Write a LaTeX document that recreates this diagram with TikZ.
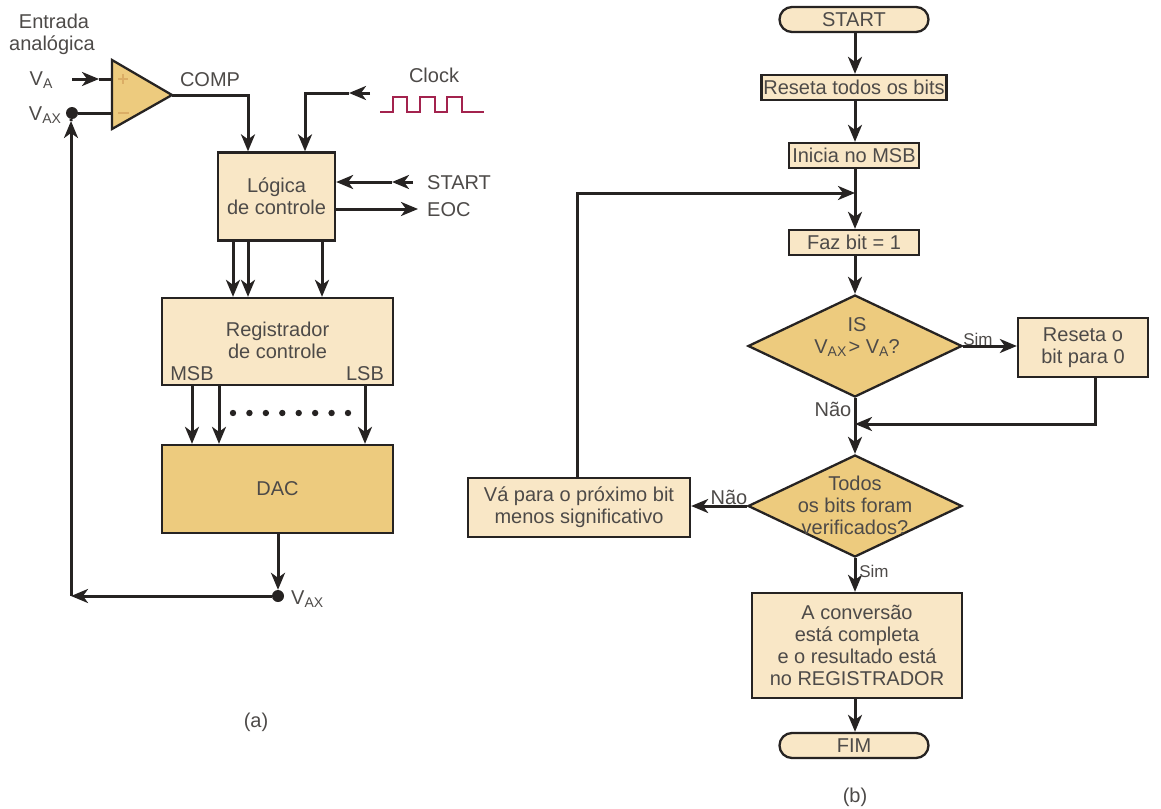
\documentclass[tikz,border=0pt]{standalone}
\usepackage{fontspec}
\setmainfont{Liberation Sans}
\usetikzlibrary{arrows.meta,shapes.geometric}
\definecolor{light}{HTML}{F9E7C6}
\definecolor{dark}{HTML}{EDCB7E}
\definecolor{ink}{HTML}{262322}
\definecolor{txt}{HTML}{4D4A48}
\definecolor{clk}{HTML}{A3234E}
\newcommand\lowsub[1]{\raisebox{-0.35ex}{\fontsize{14}{14}\selectfont #1}}
\tikzset{
  base/.style={font=\fontsize{20}{22}\selectfont, text=txt, align=center},
  lbox/.style={base, draw=ink, line width=2.3pt, fill=light, inner sep=0pt},
  dbox/.style={lbox, fill=dark},
  term/.style={lbox, rounded corners=12.5pt},
  dia/.style={draw=ink, line width=2.3pt, fill=dark, diamond, inner sep=0pt, minimum width=214pt, minimum height=102pt},
  lbl/.style={base, inner sep=0pt},
  conn/.style={draw=ink, line width=3pt},
  arr/.style={conn, -{Stealth[length=17pt,width=14pt,inset=5pt]}},
  dotc/.style={circle, fill=ink, inner sep=0pt, minimum size=12pt}
}
\begin{document}
\begin{tikzpicture}[x=1pt,y=-1pt]
\useasboundingbox (0,0) rectangle (1161,808);
% ---------- (a) ----------
\node[lbl] (entrada) at (54,21) {Entrada};
\node[lbl] (analog) at (52,45) {analógica};
\node[lbl] (va) at (41,80) {V\lowsub{A}};
\node[lbl] (vax) at (45,115) {V\lowsub{AX}};
% comparator
\coordinate (cl1) at (112,60);
\coordinate (cl2) at (112,129);
\coordinate (cap) at (172,95);
\fill[dark] (cl1) -- (cap) -- (cl2) -- cycle;
\draw[ink, line width=2.3pt, line join=miter] (cl1) -- (cap) -- (cl2) -- cycle;
\draw[color=dark!60!brown, line width=1.3pt] (118,79) -- (128,79) (123,74) -- (123,84);
\draw[color=dark!60!brown, line width=1.3pt] (118,113) -- (129,113);
\coordinate (plusin) at (112,79);
\coordinate (minin) at (112,113);
\coordinate (vaS) at (72,79);
\coordinate (vaM) at (99,79);
\draw[arr] (vaS) -- (vaM);
\draw[conn] (vaM) -- (plusin);
\node[dotc] (vaxdot) at (72,113) {};
\draw[conn] (vaxdot) -- (minin);
\node[lbl] (comp) at (210,80) {COMP};
% logic
\node[lbox, minimum width=117pt, minimum height=88pt] (logic) at (276.5,196.5) {Lógica\\de controle};
\coordinate (compc) at (248,95);
\draw[arr] (cap) -- (compc) -- (logic.north -| compc);
% clock
\node[lbl] (clock) at (434,75) {Clock};
\draw[clk, line width=2.8pt, line join=miter] (380,112) -- (393,112) -- (393,97) -- (407,97) -- (407,112) -- (420,112) -- (420,97) -- (435,97) -- (435,112) -- (447,112) -- (447,97) -- (462,97) -- (462,112) -- (484,112);
\coordinate (clkS) at (370,93);
\coordinate (clkM) at (349,93);
\coordinate (clkC) at (305,93);
\draw[arr] (clkS) -- (clkM);
\draw[arr] (clkM) -- (clkC) -- (logic.north -| clkC);
% start / eoc
\node[lbl, anchor=west] (startL) at (427,183) {START};
\node[lbl, anchor=west] (eocL) at (427,210) {EOC};
\coordinate (stS) at (413,182);
\coordinate (stM) at (392,182);
\draw[arr] (stS) -- (stM);
\draw[arr] (stM) -- (logic.east |- stM);
\coordinate (eocE) at (418,209);
\draw[arr] (logic.east |- eocE) -- (eocE);
% register
\node[lbox, minimum width=231pt, minimum height=87pt] (reg) at (277.5,341.5) {};
\node[lbl] (regt) at (277.5,340) {Registrador\\de controle};
\node[lbl] (msb) at (192,374) {MSB};
\node[lbl] (lsb) at (365,374) {LSB};
\foreach \x in {233,248,322} \draw[arr] (logic.south -| \x,0) -- (reg.north -| \x,0);
% DAC
\node[dbox, minimum width=231pt, minimum height=88pt] (dac) at (277.5,489) {DAC};
\foreach \x in {192,219,365} \draw[arr] (reg.south -| \x,0) -- (dac.north -| \x,0);
\foreach \i in {0,...,7} \fill[ink] (233+\i*16.43,413) circle (3.2pt);
% feedback
\node[dotc] (vaxo) at (278,596) {};
\node[lbl, anchor=west] (vaxoL) at (291,599) {V\lowsub{AX}};
\draw[arr] (dac.south -| vaxo) -- (vaxo);
\coordinate (fbc) at (71,596);
\coordinate (fbt) at (71,121);
\draw[arr] (vaxo) -- (fbc);
\draw[arr] (fbc) -- (fbt);
\draw[conn] (fbt) -- (vaxdot);
\node[lbl] (capa) at (256,722) {(a)};
% ---------- (b) ----------
\node[term, minimum width=149pt, minimum height=25pt] (start) at (854,19.5) {START};
\node[lbox, minimum width=185pt, minimum height=25pt] (reset) at (854,87.5) {Reseta todos os bits};
\node[lbox, minimum width=130pt, minimum height=25pt] (inicia) at (854,155.5) {Inicia no MSB};
\node[lbox, minimum width=130pt, minimum height=25pt] (faz) at (854,242.5) {Faz bit = 1};
\node[dia] (d1) at (855,346) {};
\node[lbl] (d1t) at (857,337) {IS\\V\lowsub{AX} \!> V\lowsub{A}?};
\node[lbox, minimum width=130pt, minimum height=59pt] (r0) at (1083,347.5) {Reseta o\\bit para 0};
\node[dia] (d2) at (855,506) {};
\node[lbl] (d2t) at (855,505) {Todos\\os bits foram\\verificados?};
\node[lbox, minimum width=222pt, minimum height=59pt] (vab) at (579,507.5) {Vá para o próximo bit\\menos significativo};
\node[lbox, minimum width=210pt, minimum height=105pt] (conv) at (857,645.5) {A conversão\\está completa\\e o resultado está\\no REGISTRADOR};
\node[term, minimum width=149pt, minimum height=25pt] (fim) at (854,745.5) {FIM};
\node[lbl] (capb) at (855,797) {(b)};
\coordinate (mx) at (855,0);
\draw[arr] (start.south -| mx) -- (reset.north -| mx);
\draw[arr] (reset.south -| mx) -- (inicia.north -| mx);
\coordinate (merge1) at (855,193);
\draw[conn] (inicia.south -| mx) -- (merge1);
\draw[arr] (merge1) -- (faz.north -| mx);
\draw[arr] (faz.south -| mx) -- (d1.north);
\draw[arr] (d1.east) -- (r0.west |- d1.east);
\node[lbl, font=\fontsize{17}{20}\selectfont] (sim1) at (978,339) {Sim};
\coordinate (merge2) at (855,424);
\coordinate (r0c) at (1095,424);
\draw[arr] (r0.south -| r0c) -- (r0c) -- (merge2);
\node[lbl] (nao1) at (833,409) {Não};
\draw[arr] (d1.south) -- (d2.north);
\draw[arr] (d2.west) -- (vab.east |- d2.west);
\node[lbl] (nao2) at (729,497) {Não};
\coordinate (loopc) at (577,193);
\draw[arr] (vab.north -| loopc) -- (loopc) -- (merge1);
\draw[arr] (d2.south) -- (conv.north -| mx);
\node[lbl, font=\fontsize{17}{20}\selectfont] (sim2) at (874,571) {Sim};
\draw[arr] (conv.south -| mx) -- (fim.north -| mx);
\end{tikzpicture}
\end{document}
